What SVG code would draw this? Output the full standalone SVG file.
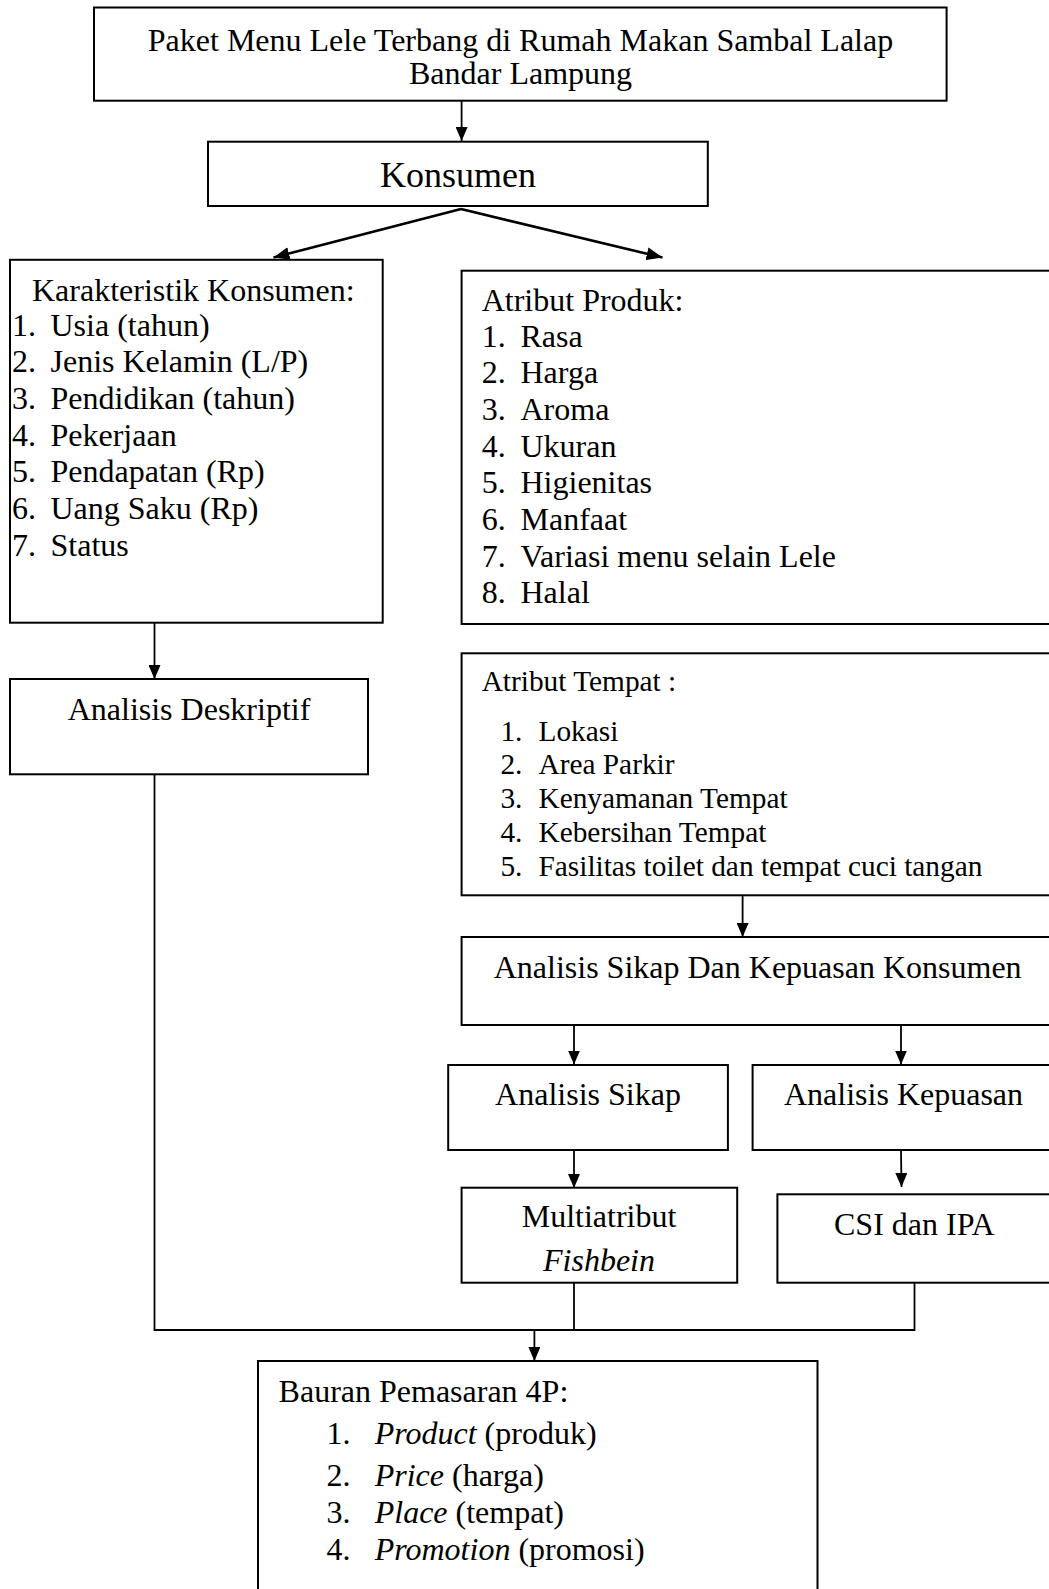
<svg xmlns="http://www.w3.org/2000/svg" width="1049" height="1589" viewBox="0 0 1049 1589">
<style>
.box{fill:#fff;stroke:#000;stroke-width:2}
.t{font-family:"Liberation Serif","Times New Roman",serif;font-size:32px;fill:#000}
.s{font-size:29.33px}
.c{text-anchor:middle}
.i{font-style:italic}
.ln{fill:none;stroke:#000;stroke-width:1.8}
.lt{fill:none;stroke:#000;stroke-width:2.6}
</style>
<defs>
<marker id="ah2" viewBox="0 0 14 12" refX="14" refY="6" markerWidth="14" markerHeight="12" markerUnits="userSpaceOnUse" orient="auto">
<path d="M0,0 L14,6 L0,12 z" fill="#000"/>
</marker>
<marker id="ah3" viewBox="0 0 16 13" refX="16" refY="6.5" markerWidth="16" markerHeight="13" markerUnits="userSpaceOnUse" orient="auto">
<path d="M0,0 L16,6.5 L0,13 z" fill="#000"/>
</marker>
</defs>
<rect width="1049" height="1589" fill="#fff"/>

<g id="connectors">
<line class="ln" x1="461.6" y1="101" x2="461.6" y2="141" marker-end="url(#ah2)"/>
<line class="lt" x1="461" y1="209" x2="273.5" y2="257.5" marker-end="url(#ah3)"/>
<line class="lt" x1="461" y1="209" x2="662.5" y2="257.5" marker-end="url(#ah3)"/>
<line class="ln" x1="154.5" y1="623" x2="154.5" y2="679" marker-end="url(#ah2)"/>
<line class="ln" x1="742.6" y1="895" x2="742.6" y2="937" marker-end="url(#ah2)"/>
<line class="ln" x1="574" y1="1025" x2="574" y2="1064.5" marker-end="url(#ah2)"/>
<line class="ln" x1="901" y1="1025" x2="901" y2="1064.5" marker-end="url(#ah2)"/>
<line class="ln" x1="574" y1="1150" x2="574" y2="1188" marker-end="url(#ah2)"/>
<line class="ln" x1="901" y1="1150" x2="901.5" y2="1187" marker-end="url(#ah2)"/>
<polyline class="ln" points="154.5,774 154.5,1330 914.5,1330 914.5,1283"/>
<line class="ln" x1="574" y1="1283" x2="574" y2="1330"/>
<line class="ln" x1="534.4" y1="1330" x2="534.4" y2="1361" marker-end="url(#ah2)"/>
</g>

<g id="title">
<rect class="box" x="94" y="7.5" width="852.6" height="93.2"/>
<text class="t c" x="520.5" y="50.5">Paket Menu Lele Terbang di Rumah Makan Sambal Lalap</text>
<text class="t c" x="520.5" y="84">Bandar Lampung</text>
</g>

<g id="konsumen">
<rect class="box" x="208" y="141.7" width="499.8" height="64.3"/>
<text class="t c" x="458" y="187" style="font-size:36px">Konsumen</text>
</g>

<g id="karakteristik">
<rect class="box" x="10" y="259.8" width="372.7" height="362.9"/>
<text class="t" x="32" y="300.5">Karakteristik Konsumen:</text>
<text class="t" x="12" y="335.5">1.</text><text class="t" x="50.5" y="335.5">Usia (tahun)</text>
<text class="t" x="12" y="372.2">2.</text><text class="t" x="50.5" y="372.2">Jenis Kelamin (L/P)</text>
<text class="t" x="12" y="408.9">3.</text><text class="t" x="50.5" y="408.9">Pendidikan (tahun)</text>
<text class="t" x="12" y="445.6">4.</text><text class="t" x="50.5" y="445.6">Pekerjaan</text>
<text class="t" x="12" y="482.3">5.</text><text class="t" x="50.5" y="482.3">Pendapatan (Rp)</text>
<text class="t" x="12" y="519">6.</text><text class="t" x="50.5" y="519">Uang Saku (Rp)</text>
<text class="t" x="12" y="555.7">7.</text><text class="t" x="50.5" y="555.7">Status</text>
</g>

<g id="atribut-produk">
<rect class="box" x="461.6" y="270.7" width="600" height="353.3"/>
<text class="t" x="481.7" y="310.5">Atribut Produk:</text>
<text class="t" x="481.7" y="346.5">1.</text><text class="t" x="520.5" y="346.5">Rasa</text>
<text class="t" x="481.7" y="383.2">2.</text><text class="t" x="520.5" y="383.2">Harga</text>
<text class="t" x="481.7" y="419.9">3.</text><text class="t" x="520.5" y="419.9">Aroma</text>
<text class="t" x="481.7" y="456.6">4.</text><text class="t" x="520.5" y="456.6">Ukuran</text>
<text class="t" x="481.7" y="493.3">5.</text><text class="t" x="520.5" y="493.3">Higienitas</text>
<text class="t" x="481.7" y="530">6.</text><text class="t" x="520.5" y="530">Manfaat</text>
<text class="t" x="481.7" y="566.7">7.</text><text class="t" x="520.5" y="566.7">Variasi menu selain Lele</text>
<text class="t" x="481.7" y="603.4">8.</text><text class="t" x="520.5" y="603.4">Halal</text>
</g>

<g id="analisis-deskriptif">
<rect class="box" x="10" y="679" width="358" height="95.3"/>
<text class="t c" x="189" y="720">Analisis Deskriptif</text>
</g>

<g id="atribut-tempat">
<rect class="box" x="461.6" y="653.3" width="600" height="242"/>
<text class="t s" x="481.7" y="691">Atribut Tempat :</text>
<text class="t s" x="500.4" y="740.5">1.</text><text class="t s" x="538.5" y="740.5">Lokasi</text>
<text class="t s" x="500.4" y="774.3">2.</text><text class="t s" x="538.5" y="774.3">Area Parkir</text>
<text class="t s" x="500.4" y="808.1">3.</text><text class="t s" x="538.5" y="808.1">Kenyamanan Tempat</text>
<text class="t s" x="500.4" y="841.9">4.</text><text class="t s" x="538.5" y="841.9">Kebersihan Tempat</text>
<text class="t s" x="500.4" y="875.7">5.</text><text class="t s" x="538.5" y="875.7">Fasilitas toilet dan tempat cuci tangan</text>
</g>

<g id="analisis-sikap-kepuasan">
<rect class="box" x="461.6" y="937" width="600" height="88"/>
<text class="t" x="493.7" y="978">Analisis Sikap Dan Kepuasan Konsumen</text>
</g>

<g id="analisis-sikap">
<rect class="box" x="448.2" y="1065" width="279.7" height="85"/>
<text class="t c" x="588" y="1105">Analisis Sikap</text>
</g>

<g id="analisis-kepuasan">
<rect class="box" x="752.6" y="1065" width="310" height="85"/>
<text class="t" x="784" y="1105">Analisis Kepuasan</text>
</g>

<g id="multiatribut">
<rect class="box" x="461.6" y="1187.7" width="275.6" height="95"/>
<text class="t c" x="599" y="1227">Multiatribut</text>
<text class="t c i" x="599" y="1271">Fishbein</text>
</g>

<g id="csi-ipa">
<rect class="box" x="777.4" y="1194.3" width="290" height="88.4"/>
<text class="t" x="834" y="1235">CSI dan IPA</text>
</g>

<g id="bauran">
<rect class="box" x="258" y="1361" width="559.5" height="260"/>
<text class="t" x="278.6" y="1402">Bauran Pemasaran 4P:</text>
<text class="t" x="326.5" y="1444">1.</text><text class="t" x="374.7" y="1444"><tspan class="i">Product</tspan> (produk)</text>
<text class="t" x="326.5" y="1486">2.</text><text class="t" x="374.7" y="1486"><tspan class="i">Price</tspan> (harga)</text>
<text class="t" x="326.5" y="1523">3.</text><text class="t" x="374.7" y="1523"><tspan class="i">Place</tspan> (tempat)</text>
<text class="t" x="326.5" y="1560">4.</text><text class="t" x="374.7" y="1560"><tspan class="i">Promotion</tspan> (promosi)</text>
</g>
</svg>
